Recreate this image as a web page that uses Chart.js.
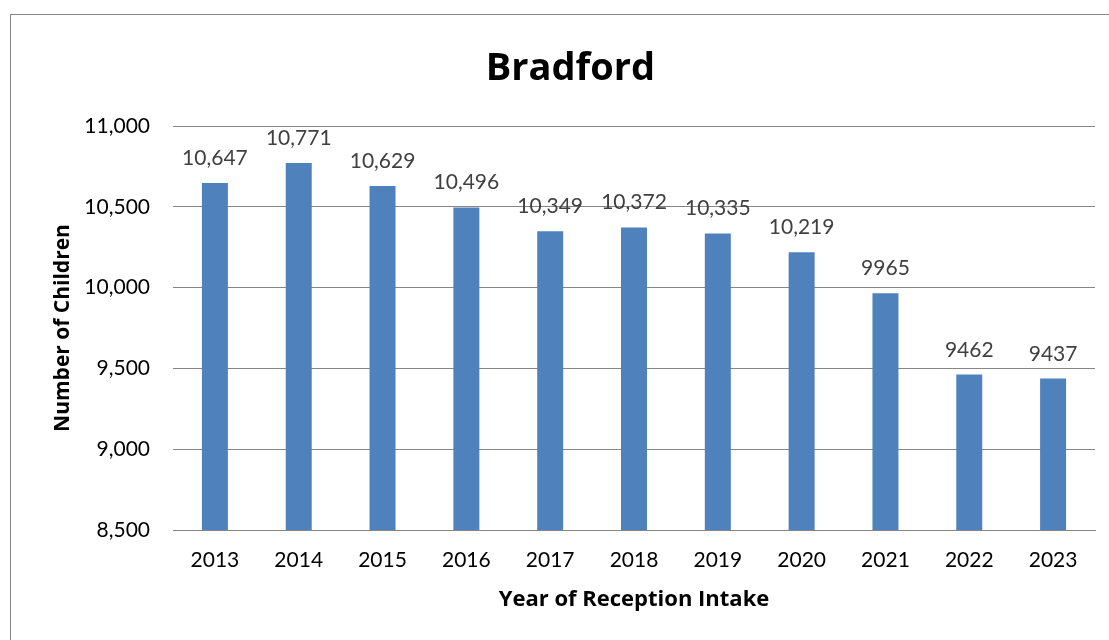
<!DOCTYPE html>
<html>
<head>
<meta charset="utf-8">
<script src="https://cdn.jsdelivr.net/npm/chart.js@4.4.0/dist/chart.umd.min.js"></script>
<style>
    html, body { margin: 0; padding: 0; background: #fff; overflow: hidden; }
    #frame { position: absolute; left: 10px; top: 14px; width: 1120px; height: 660px; border: 1px solid #868686; box-sizing: border-box; }
    #wrap { position: absolute; left: 0; top: 0; width: 1109px; height: 640px; }
</style>
</head>
<body>
<div id="frame"></div>
<div id="wrap"><canvas id="bradford"></canvas></div>
<script>
const years = ["2013", "2014", "2015", "2016", "2017", "2018", "2019", "2020", "2021", "2022", "2023"];
const children = [10647, 10771, 10629, 10496, 10349, 10372, 10335, 10219, 9965, 9462, 9437];
const yTicks = [8500, 9000, 9500, 10000, 10500, 11000];

const FONT = "Lato, 'Open Sans', sans-serif";
const BOLD = "'Open Sans', Lato, sans-serif";

// Excel only put thousands separators on the 5-digit values
function fmtLabel(v) {
    return v >= 10000 ? v.toLocaleString('en-US') : String(v);
}

const barLabels = {
    id: 'barLabels',
    afterDatasetsDraw(chart) {
        const ctx = chart.ctx;
        const meta = chart.getDatasetMeta(0);
        ctx.save();
        ctx.font = "21px " + FONT;
        ctx.fillStyle = "#404040";
        ctx.textAlign = "center";
        ctx.textBaseline = "alphabetic";
        meta.data.forEach((bar, i) => {
            ctx.fillText(fmtLabel(children[i]), bar.x, bar.y - 18);
        });
        ctx.restore();
    }
};

new Chart(document.getElementById('bradford'), {
    type: 'bar',
    data: {
        labels: years,
        datasets: [{
            label: "Number of Children",
            data: children,
            backgroundColor: "#4F81BD",
            barPercentage: 0.31,
            categoryPercentage: 1
        }]
    },
    options: {
        responsive: true,
        maintainAspectRatio: false,
        animation: false,
        events: [],
        layout: { padding: { left: 46, right: 14, top: 20, bottom: 23 } },
        plugins: {
            legend: { display: false },
            tooltip: { enabled: false },
            title: {
                display: true,
                text: "Bradford",
                color: "#000",
                font: { family: BOLD, size: 38, weight: 'bold' },
                padding: { top: 26, bottom: 34.4 }
            }
        },
        scales: {
            x: {
                grid: { display: false, drawTicks: false },
                border: { display: true, color: "#868686", width: 1 },
                ticks: { color: "#000", font: { family: FONT, size: 21 }, padding: 18, maxRotation: 0 },
                title: {
                    display: true,
                    text: "Year of Reception Intake",
                    color: "#000",
                    font: { family: BOLD, size: 22, weight: 'bold' }
                },
                afterFit(scale) { scale.height = 87; }
            },
            y: {
                min: yTicks[0],
                max: yTicks[yTicks.length - 1],
                afterBuildTicks(scale) { scale.ticks = yTicks.map(v => ({ value: v })); },
                grid: { color: "#868686", lineWidth: 1, drawTicks: false },
                border: { display: false },
                ticks: {
                    color: "#000",
                    font: { family: FONT, size: 21 },
                    padding: 23,
                    callback: v => v.toLocaleString('en-US')
                },
                title: {
                    display: true,
                    text: "Number of Children",
                    color: "#000",
                    font: { family: BOLD, size: 21, weight: 'bold' }
                },
                afterFit(scale) { scale.width = 127; }
            }
        }
    },
    plugins: [barLabels]
});
</script>
</body>
</html>
